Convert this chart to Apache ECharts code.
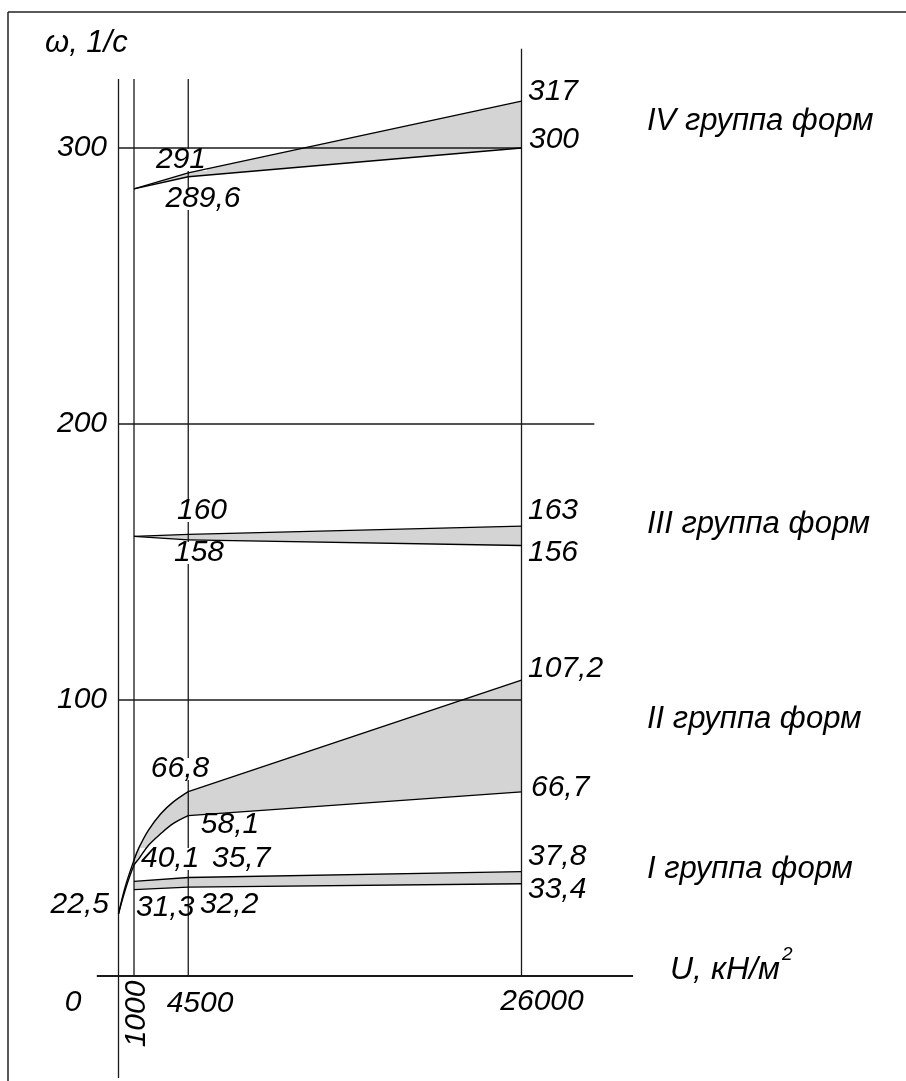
<!DOCTYPE html>
<html>
<head>
<meta charset="utf-8">
<script src="https://cdn.jsdelivr.net/npm/echarts@6/dist/echarts.min.js"></script>
<style>
html,body{margin:0;padding:0;background:#fff;}
#c{width:906px;height:1081px;}
</style>
</head>
<body>
<div id="c"></div>
<script>
// ---------------- data ----------------
// U, кН/м²  tick labels
const uTicks = [0, 1000, 4500, 26000];
// ω, 1/с  tick labels
const wTicks = [100, 200, 300];
// group titles
const groupNames = ['I группа форм', 'II группа форм', 'III группа форм', 'IV группа форм'];

// I группа форм
const g1Upper = [[1000, 34.3], [4500, 35.7], [26000, 37.8]];
const g1Lower = [[1000, 31.3], [4500, 32.2], [26000, 33.4]];
// II группа форм
const g2Upper = [[0, 22.5], [430, 32.3], [1000, 42], [1320, 46.5], [1925, 52.8], [2730, 58.8], [3520, 63], [4500, 66.8], [26000, 107.2]];
const g2Lower = [[0, 22.5], [430, 31.1], [1000, 40.1], [1320, 42.5], [1925, 47.3], [2730, 51.6], [3520, 55.2], [4500, 58.1], [26000, 66.7]];
// III группа форм
const g3Upper = [[1000, 159.3], [4500, 160], [26000, 163]];
const g3Lower = [[1000, 159.3], [4500, 158], [26000, 156]];
// IV группа форм
const g4Upper = [[1000, 285.2], [4500, 291], [26000, 317]];
const g4Lower = [[1000, 285.2], [4500, 289.6], [26000, 300]];

// guide lines of the drawing (data units)
const vGuides = [[0, -37, 325], [1000, 0, 325], [4500, 0, 325], [26000, 0, 336]];   // [U, ω from, ω to]
const hGuides = [[100, 0, 26000], [200, 0, 30700], [300, 0, 26000]];                // [ω, U from, U to]
const xAxisExtent = [-1400, 33200];

// ---------------- styling ----------------
const FONT = "'Liberation Sans', Arial, sans-serif";
const INK = '#000';
const FILL = '#d4d4d4';
const txt = {color: INK, fontFamily: FONT, fontStyle: 'italic', fontSize: 30};

const at = (arr, u) => arr.find(p => p[0] === u);
const fmt = v => String(v).replace('.', ',');

// per-label placement: [point, dx, dy, align, whiteBackground]
const labelSpecs = [
  [at(g4Upper, 4500), -7, -13, 'center', true],
  [at(g4Upper, 26000), 6, -9, 'left'],
  [at(g4Lower, 4500), 15, 22, 'center', true],
  [at(g4Lower, 26000), 7, -8, 'left'],
  [at(g3Upper, 4500), 14, -23, 'center', true],
  [at(g3Upper, 26000), 6, -15, 'left'],
  [at(g3Lower, 4500), 11, 13, 'center', true],
  [at(g3Lower, 26000), 6, 8, 'left'],
  [at(g2Upper, 4500), -8, -23, 'center', true],
  [at(g2Upper, 26000), 6, -11, 'left'],
  [at(g2Lower, 0), -10, -9, 'right'],
  [at(g2Lower, 1000), 6, -6, 'left', true],
  [at(g2Lower, 4500), 42, 9, 'center'],
  [at(g2Lower, 26000), 9, -4, 'left'],
  [at(g1Upper, 4500), 24, -18, 'left'],
  [at(g1Upper, 26000), 6, -15, 'left'],
  [at(g1Lower, 1000), 2, 18, 'left'],
  [at(g1Lower, 4500), 12, 18, 'left'],
  [at(g1Lower, 26000), 6, 6, 'left']
];
const xTickStyle = {
  0: {dx: -46, dy: 27, rot: 0},
  1000: {dx: 3, dy: 38, rot: Math.PI / 2},
  4500: {dx: 12, dy: 28, rot: 0},
  26000: {dx: 20, dy: 26, rot: 0}
};

// ---------------- series ----------------
const series = [];
const base = {silent: true, animation: false, symbol: 'none', showSymbol: false, clip: false};

// grey bands between the boundary curves
[[g1Upper, g1Lower], [g2Upper, g2Lower], [g3Upper, g3Lower], [g4Upper, g4Lower]].forEach(([up, lo]) => {
  const pts = up.concat(lo.slice().reverse());
  series.push({
    type: 'custom', coordinateSystem: 'cartesian2d', silent: true, animation: false, z: 1, clip: false,
    data: [up[0]],
    renderItem: (params, api) => ({
      type: 'polygon',
      shape: {points: pts.map(p => api.coord(p))},
      style: {fill: FILL, stroke: null}
    })
  });
});

// guide lines
function seg(data, width) {
  series.push(Object.assign({type: 'line', data: data, z: 2,
    lineStyle: {color: '#1a1a1a', width: width}}, base));
}
vGuides.forEach(([u, a, b]) => seg([[u, a], [u, b]], 1.3));
hGuides.forEach(([w, a, b]) => seg([[a, w], [b, w]], 1.3));
seg([[xAxisExtent[0], 0], [xAxisExtent[1], 0]], 2);

// boundary curves (curved part smoothed, straight part straight)
function curve(pts) {
  const i = pts.findIndex(p => p[0] === 4500);
  const bent = pts.slice(0, i + 1), straight = pts.slice(i);
  series.push(Object.assign({type: 'line', data: bent, z: 4, smooth: bent.length > 3 ? 0.35 : false,
    lineStyle: {color: INK, width: 1.4}}, base));
  series.push(Object.assign({type: 'line', data: straight, z: 4,
    lineStyle: {color: INK, width: 1.4}}, base));
}
[g1Upper, g1Lower, g2Upper, g2Lower, g3Upper, g3Lower, g4Upper, g4Lower].forEach(curve);

// text placed at pixel-rounded positions of data points
const FONT_STR = 'italic 30px ' + FONT;
function textItem(pt, dx, dy, text, align, bg, rot) {
  return {
    type: 'text', x: Math.round(pt[0]) + dx, y: Math.round(pt[1]) + dy, rotation: rot || 0,
    style: Object.assign({text: text, fill: INK, font: FONT_STR, align: align, verticalAlign: 'middle'},
      bg ? {backgroundColor: '#fff', padding: [0, 1], lineHeight: 22} : {})
  };
}

// value labels
series.push({
  type: 'custom', coordinateSystem: 'cartesian2d', silent: true, animation: false, z: 3, clip: false,
  data: labelSpecs.map(s => s[0]),
  renderItem: (params, api) => {
    const [p, dx, dy, align, bg] = labelSpecs[params.dataIndex];
    return textItem(api.coord(p), dx, dy, fmt(p[1]), align, bg);
  }
});

// U tick labels
series.push({
  type: 'custom', coordinateSystem: 'cartesian2d', silent: true, animation: false, z: 3, clip: false,
  data: uTicks.map(u => [u, 0]),
  renderItem: (params, api) => {
    const u = uTicks[params.dataIndex], s = xTickStyle[u];
    return textItem(api.coord([u, 0]), s.dx, s.dy, String(u), 'center', false, s.rot);
  }
});

const titleY = [869, 719, 524, 121];

const option = {
  animation: false,
  backgroundColor: '#fff',
  grid: {left: 10, top: 10, width: 883.5, height: 1076.4, containLabel: false, outerBoundsMode: 'none'},
  xAxis: {
    type: 'value', min: -7000, max: 50000,
    axisLine: {show: false, onZero: false}, axisTick: {show: false},
    axisLabel: {show: false}, splitLine: {show: false}
  },
  yAxis: {
    type: 'value', min: -40, max: 350,
    axisLine: {show: false, onZero: false}, axisTick: {show: false}, splitLine: {show: false},
    axisLabel: Object.assign({inside: true, margin: 47, align: 'left', customValues: wTicks,
      formatter: v => String(v)}, txt)
  },
  graphic: [
    {type: 'line', silent: true, shape: {x1: 8, y1: 12, x2: 906, y2: 12}, style: {stroke: '#222', lineWidth: 1.5}},
    {type: 'line', silent: true, shape: {x1: 8, y1: 12, x2: 8, y2: 1081}, style: {stroke: '#222', lineWidth: 1.5}},
    {type: 'text', silent: true, x: 45, y: 43,
      style: {text: 'ω, 1/с', fill: INK, font: 'italic 31px ' + FONT, align: 'left', verticalAlign: 'middle'}},
    {type: 'text', silent: true, x: 670, y: 970,
      style: {text: 'U, кН/м', fill: INK, font: 'italic 32px ' + FONT, align: 'left', verticalAlign: 'middle'}},
    {type: 'text', silent: true, x: 782, y: 955,
      style: {text: '2', fill: INK, font: 'italic 19px ' + FONT, align: 'left', verticalAlign: 'middle'}}
  ].concat(groupNames.map((n, i) => ({
    type: 'text', silent: true, x: 647, y: titleY[i],
    style: {text: n, fill: INK, font: 'italic 31px ' + FONT, align: 'left', verticalAlign: 'middle'}
  }))),
  series: series
};

const chart = echarts.init(document.getElementById('c'), null, {renderer: 'canvas', width: 906, height: 1081});
chart.setOption(option);
</script>
</body>
</html>
